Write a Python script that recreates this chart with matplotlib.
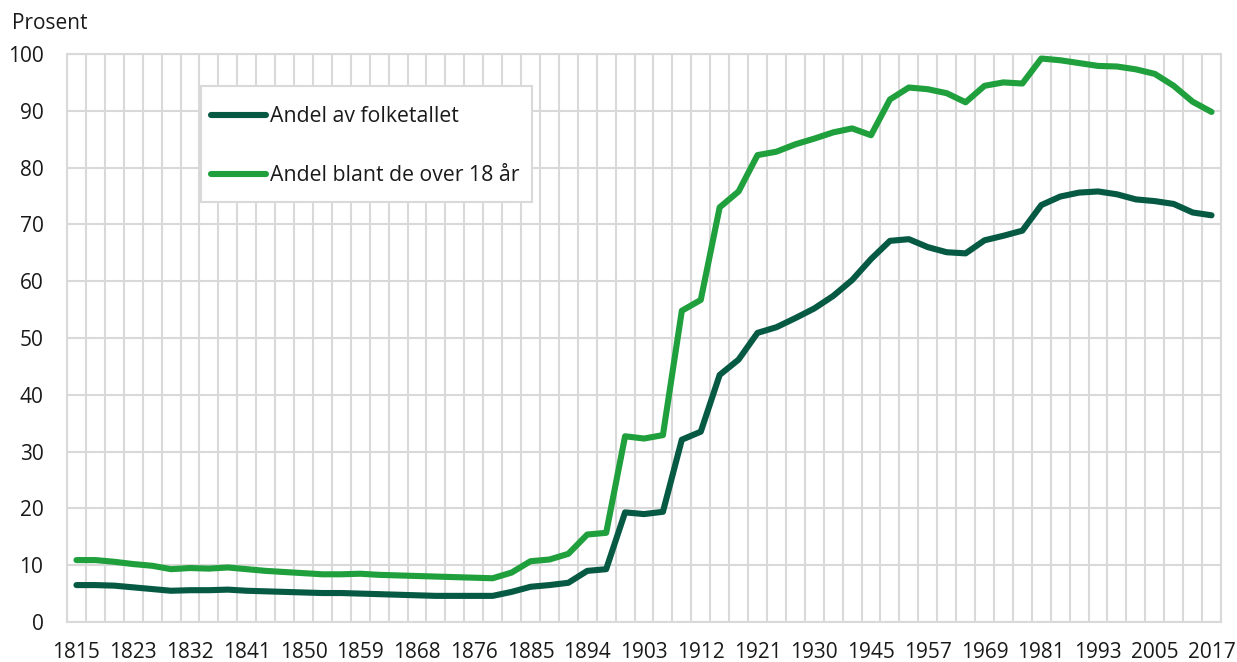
import numpy as np
import matplotlib
matplotlib.use("Agg")
import matplotlib.pyplot as plt
from matplotlib.patches import Rectangle

plt.rcParams['font.family'] = ['Open Sans', 'DejaVu Sans']

# valgår (stortingsvalg)
years = [1815, 1818, 1820, 1823, 1826, 1829, 1832, 1835, 1838, 1841,
         1844, 1847, 1850, 1853, 1856, 1859, 1862, 1865, 1868, 1870,
         1873, 1876, 1879, 1882, 1885, 1888, 1891, 1894, 1897, 1900,
         1903, 1906, 1909, 1912, 1915, 1918, 1921, 1924, 1927, 1930,
         1933, 1936, 1945, 1949, 1953, 1957, 1961, 1965, 1969, 1973,
         1977, 1981, 1985, 1989, 1993, 1997, 2001, 2005, 2009, 2013, 2017]

andel_folketall = [6.5, 6.5, 6.4, 6.1, 5.8, 5.5, 5.6, 5.6, 5.7, 5.5,
                   5.4, 5.3, 5.2, 5.1, 5.1, 5.0, 4.9, 4.8, 4.7, 4.6,
                   4.6, 4.6, 4.6, 5.3, 6.2, 6.5, 6.9, 9.0, 9.3, 19.3,
                   19.0, 19.4, 32.1, 33.5, 43.5, 46.2, 50.9, 51.9, 53.5, 55.2,
                   57.4, 60.2, 63.9, 67.1, 67.4, 66.0, 65.1, 64.9, 67.2, 68.0,
                   68.9, 73.4, 74.9, 75.6, 75.8, 75.3, 74.4, 74.1, 73.6, 72.1, 71.6]

andel_over18 = [10.9, 10.9, 10.6, 10.2, 9.9, 9.3, 9.5, 9.4, 9.6, 9.3,
                9.0, 8.8, 8.6, 8.4, 8.4, 8.5, 8.3, 8.2, 8.1, 8.0,
                7.9, 7.8, 7.7, 8.7, 10.7, 11.0, 12.0, 15.4, 15.7, 32.7,
                32.3, 32.9, 54.8, 56.7, 73.0, 75.8, 82.2, 82.8, 84.1, 85.1,
                86.2, 86.9, 85.7, 92.0, 94.1, 93.8, 93.1, 91.5, 94.4, 95.0,
                94.8, 99.2, 98.9, 98.4, 97.9, 97.8, 97.3, 96.5, 94.4, 91.6, 89.8]

grid_col = '#d9d9d9'
txt_col = '#1a1a1a'
fs = 15

fig = plt.figure(figsize=(12.37, 6.62), dpi=100)
ax = fig.add_axes([67/1237, 1-622/662, (1221-67)/1237, (622-54)/662])

x = np.arange(len(years))
ax.plot(x, andel_folketall, color='#065a43', lw=4.4, solid_capstyle='round',
        solid_joinstyle='round', label='Andel av folketallet', zorder=3)
ax.plot(x, andel_over18, color='#1fa03c', lw=4.4, solid_capstyle='round',
        solid_joinstyle='round', label='Andel blant de over 18 år', zorder=3)

ax.set_xlim(-0.5, len(years)-0.5)
ax.set_ylim(0, 100)
ax.set_yticks(range(0, 101, 10))
ax.set_xticks(x[::3])
ax.set_xticklabels([str(y) for y in years[::3]])
ax.set_xticks(np.arange(-0.5, len(years), 1), minor=True)
ax.tick_params(axis='both', which='both', length=0, labelsize=fs, colors=txt_col)
ax.tick_params(axis='x', pad=14.5)
ax.tick_params(axis='y', pad=17)
ax.grid(True, which='minor', axis='x', color=grid_col, lw=1.5)
ax.grid(True, which='major', axis='y', color=grid_col, lw=1.5)
for s in ax.spines.values():
    s.set_color(grid_col)
    s.set_linewidth(1.5)
ax.set_axisbelow(True)

fig.text(12/1237, 1-29/662, 'Prosent', fontsize=fs, color=txt_col, va='baseline')

# legendeboks
ax.add_patch(Rectangle(((201-67)/1154, (622-202)/568), (532-201)/1154, (202-86)/568,
                       transform=ax.transAxes, facecolor='white', edgecolor=grid_col,
                       lw=1.5, zorder=4))
leg = ax.legend(loc='center left', bbox_to_anchor=((211-67)/1154, (622-146)/568),
                borderaxespad=0, borderpad=0, fontsize=15.3, frameon=False,
                handlelength=2.6, handletextpad=0.19, labelspacing=1.79)
leg.set_zorder(5)
for t in leg.get_texts():
    t.set_color(txt_col)

fig.savefig('out.png', dpi=100)
